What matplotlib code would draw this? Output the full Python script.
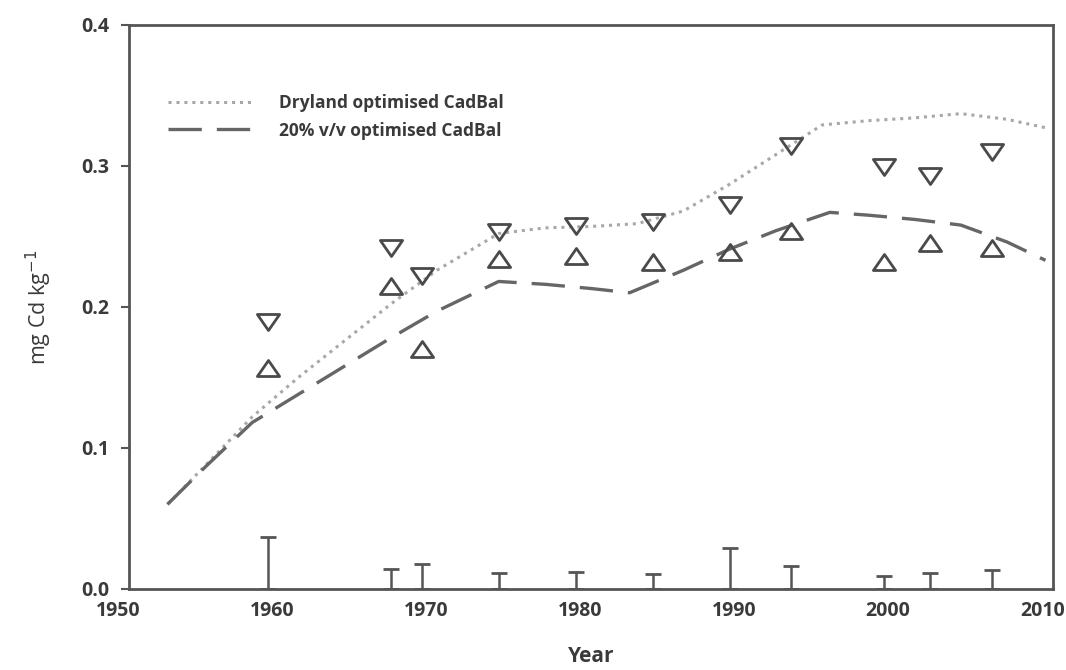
import matplotlib
matplotlib.use("Agg")
import matplotlib.pyplot as plt
from matplotlib.path import Path
from matplotlib.transforms import ScaledTranslation
import numpy as np

# ---- data ----
obs_years = [1959, 1967, 1969, 1974, 1979, 1984, 1989, 1993, 1999, 2002, 2006]
obs_down = [0.189, 0.242, 0.222, 0.253, 0.257, 0.260, 0.272, 0.314, 0.299, 0.293, 0.310]
obs_up = [0.157, 0.215, 0.170, 0.234, 0.236, 0.232, 0.239, 0.254, 0.232, 0.245, 0.242]
err_vals = [0.037, 0.0142, 0.0175, 0.0113, 0.0123, 0.0106, 0.0293, 0.0165, 0.0092, 0.0113, 0.0133]

model_years_dry = [1952.5, 1955, 1958, 1961, 1964, 1967, 1970, 1974, 1977, 1980, 1983,
                   1986, 1989, 1992, 1995, 1998, 2001, 2004, 2007, 2009.5]
model_dry = [0.060, 0.088, 0.122, 0.150, 0.176, 0.202, 0.226, 0.252, 0.256, 0.257, 0.259,
             0.268, 0.287, 0.308, 0.329, 0.332, 0.334, 0.337, 0.333, 0.327]
model_years_20 = [1952.5, 1955, 1958, 1961, 1964, 1967, 1970, 1974, 1977, 1980, 1982.5,
                  1986, 1989, 1992, 1995.5, 1998, 2001, 2004, 2007, 2009.5]
model_20 = [0.060, 0.087, 0.118, 0.138, 0.158, 0.178, 0.197, 0.218, 0.216, 0.213, 0.210,
            0.226, 0.241, 0.254, 0.267, 0.265, 0.262, 0.258, 0.246, 0.233]

xticks = [1950, 1960, 1970, 1980, 1990, 2000, 2010]
yticks = [0.0, 0.1, 0.2, 0.3, 0.4]

plt.rcParams['font.family'] = ['Open Sans', 'DejaVu Sans']

fig = plt.figure(figsize=(10.66, 6.70), dpi=100)
ax = fig.add_axes([0.121, 0.121, 0.867, 0.842])

dark = '#4a4a4a'
txt = '#3a3a3a'
ax.plot(model_years_dry, model_dry, linestyle=(0, (1, 1.6)), color='#a8a8a8', lw=2.2,
        label='Dryland optimised CadBal')
ax.plot(model_years_20, model_20, linestyle=(0, (10, 4.5)), color='#666666', lw=2.4,
        label='20% v/v optimised CadBal')

down_marker = Path([(-1, 0.72), (1, 0.72), (0, -0.72), (-1, 0.72)],
                   [Path.MOVETO, Path.LINETO, Path.LINETO, Path.CLOSEPOLY])
up_marker = Path([(-1, -0.72), (1, -0.72), (0, 0.72), (-1, -0.72)],
                 [Path.MOVETO, Path.LINETO, Path.LINETO, Path.CLOSEPOLY])
ax.plot(obs_years, obs_down, linestyle='none', marker=down_marker, ms=16,
        mfc='none', mec=dark, mew=2.0)
ax.plot(obs_years, obs_up, linestyle='none', marker=up_marker, ms=16,
        mfc='none', mec=dark, mew=2.0)

zeros = np.zeros(len(err_vals))
ax.errorbar(obs_years, zeros, yerr=[zeros, err_vals], fmt='none', ecolor='#555555',
            elinewidth=1.8, capsize=6, capthick=2)

ax.set_xlim(1950, 2010)
ax.set_ylim(0, 0.4)
ax.set_xticks(xticks)
ax.set_yticks(yticks)
ax.set_yticklabels([f"{v:.1f}" for v in yticks])
ax.tick_params(axis='y', direction='out', length=6, width=1.5, color='#555555',
               labelsize=14, labelcolor=txt, pad=8)
ax.tick_params(axis='x', direction='out', length=0, labelsize=14,
               labelcolor=txt, pad=9)
shift = ScaledTranslation(-11 / 100, 0, fig.dpi_scale_trans)
for lab in ax.get_xticklabels():
    lab.set_transform(lab.get_transform() + shift)
for lab in ax.get_xticklabels() + ax.get_yticklabels():
    lab.set_fontweight('bold')
for sp in ax.spines.values():
    sp.set_color('#555555')
    sp.set_linewidth(2)

ax.set_xlabel('Year', fontsize=15, color=txt, fontweight='bold', labelpad=18)
ax.set_ylabel('mg Cd kg$^{-1}$', fontsize=15.5, color=txt, labelpad=20)

leg = ax.legend(loc='upper left', bbox_to_anchor=(0.025, 0.905), frameon=False,
                fontsize=12.5, handlelength=5.0, handletextpad=1.4, labelspacing=0.55)
for t in leg.get_texts():
    t.set_color(txt)
    t.set_fontweight('bold')

fig.savefig('out.png', dpi=100, facecolor='white')
